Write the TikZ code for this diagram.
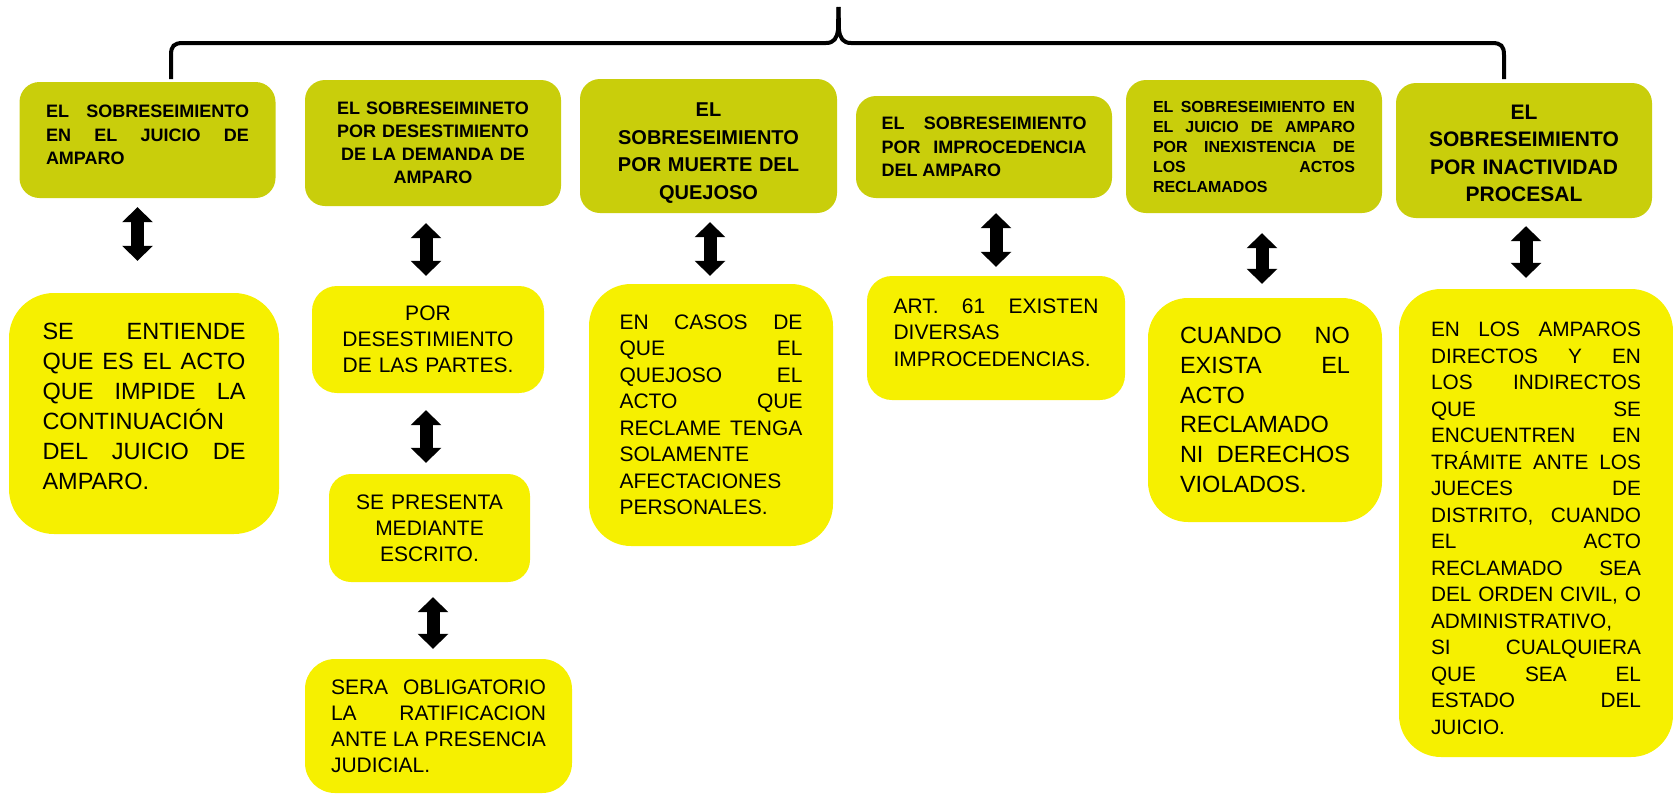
\documentclass[tikz,border=0pt]{standalone}
\usepackage{fontspec}
\setmainfont{Liberation Sans}
\usetikzlibrary{arrows.meta}

\definecolor{olivebox}{RGB}{201,206,11}
\definecolor{yellowbox}{RGB}{246,240,0}
\newcommand{\boxfont}[2]{\fontsize{#1}{#2}\selectfont}
\tolerance=10000
\hbadness=10000
\hyphenpenalty=10000

\begin{document}
\begin{tikzpicture}[x=1pt, y=-1pt,
    titlebox/.style={fill=olivebox, rounded corners=20pt, inner sep=0pt},
    notebox/.style={fill=yellowbox, inner sep=0pt},
    dblarrow/.style={line width=13pt, {Triangle[width=30pt,length=15pt]}-{Triangle[width=30pt,length=15pt]}},
    brace/.style={line width=4pt}]
    \useasboundingbox (0,0) rectangle (1673,793);

    % brace over the six kinds
    \coordinate (tip) at (838.5,7);
    \draw[brace] (171,79) -- (171,55) .. controls (171,46) and (174,43) .. (183,43) -- (826,43) .. controls (834,43) and (837,38) .. (838,30) -- (tip);
    \draw[brace] (tip) -- (839,30) .. controls (840,38) and (843,43) .. (851,43) -- (1492,43) .. controls (1501,43) and (1504,46) .. (1504,55) -- (1504,79);

    % top row
    \node[titlebox, minimum width=256pt, minimum height=116pt, text width=203pt, align=justify, font=\bfseries\boxfont{18}{23.5}] (t1) at (147.5,140) {EL SOBRESEIMIENTO\linebreak EN EL JUICIO DE\linebreak AMPARO\rule[-10pt]{0pt}{0pt}};
    \node[titlebox, minimum width=256pt, minimum height=126pt, text width=215pt, align=center, font=\bfseries\boxfont{18}{23}] (t2) at (433,143) {EL SOBRESEIMINETO\\ POR DESESTIMIENTO\\ DE LA DEMANDA DE\\ AMPARO};
    \node[titlebox, minimum width=257pt, minimum height=134pt, text width=215pt, align=center, font=\bfseries\boxfont{20}{27.5}] (t3) at (708.5,146) {\rule{0pt}{28pt}EL\\ SOBRESEIMIENTO\\ POR MUERTE DEL\\ QUEJOSO};
    \node[titlebox, minimum width=256pt, minimum height=102pt, text width=205pt, align=justify, font=\bfseries\boxfont{18}{23.5}] (t4) at (984,147) {EL SOBRESEIMIENTO\linebreak POR IMPROCEDENCIA\linebreak DEL AMPARO};
    \node[titlebox, minimum width=256pt, minimum height=133pt, text width=202pt, align=justify, font=\bfseries\boxfont{16}{20}] (t5) at (1254,146.5) {EL SOBRESEIMIENTO EN\linebreak EL JUICIO DE AMPARO\linebreak POR INEXISTENCIA DE\linebreak LOS ACTOS\linebreak RECLAMADOS};
    \node[titlebox, minimum width=256pt, minimum height=135pt, text width=215pt, align=center, font=\bfseries\boxfont{21}{27.5}] (t6) at (1524,150.5) {\rule{0pt}{20pt}EL\\ SOBRESEIMIENTO\\ POR INACTIVIDAD\\ PROCESAL};

    % bottom row
    \node[notebox, rounded corners=45pt, minimum width=270pt, minimum height=241pt, text width=203pt, align=justify, font=\boxfont{23.5}{30}] (b1) at (144,413.5) {SE ENTIENDE\linebreak QUE ES EL ACTO\linebreak QUE IMPIDE LA\linebreak CONTINUACIÓN\linebreak DEL JUICIO DE\linebreak AMPARO.\rule[-14pt]{0pt}{0pt}};
    \node[notebox, rounded corners=25pt, minimum width=232pt, minimum height=107pt, text width=210pt, align=center, font=\boxfont{21}{26}] (b2a) at (428,339.5) {POR\\ DESESTIMIENTO\\ DE LAS PARTES.};
    \node[notebox, rounded corners=22pt, minimum width=201pt, minimum height=108pt, text width=190pt, align=center, font=\boxfont{21}{26}] (b2b) at (429.5,528) {SE PRESENTA\\ MEDIANTE\\ ESCRITO.};
    \node[notebox, rounded corners=30pt, minimum width=267pt, minimum height=134pt, text width=215pt, align=justify, font=\boxfont{21}{26}] (b2c) at (438.5,726) {SERA OBLIGATORIO\linebreak LA RATIFICACION\linebreak ANTE LA PRESENCIA\linebreak JUDICIAL.};
    \node[notebox, rounded corners=42pt, minimum width=244pt, minimum height=262pt, text width=183pt, align=justify, font=\boxfont{21}{26.5}] (b3) at (711,415) {EN CASOS DE\linebreak QUE EL\linebreak QUEJOSO EL\linebreak ACTO QUE\linebreak RECLAME TENGA\linebreak SOLAMENTE\linebreak AFECTACIONES\linebreak PERSONALES.};
    \node[notebox, rounded corners=25pt, minimum width=258pt, minimum height=124pt, text width=205pt, align=justify, font=\boxfont{21}{26.5}] (b4) at (996,338) {ART. 61 EXISTEN\linebreak DIVERSAS\linebreak IMPROCEDENCIAS.\rule[-11pt]{0pt}{0pt}};
    \node[notebox, rounded corners=40pt, minimum width=234pt, minimum height=224pt, text width=170pt, align=justify, font=\boxfont{23.5}{29.7}] (b5) at (1265,410) {CUANDO NO\linebreak EXISTA EL\linebreak ACTO\linebreak RECLAMADO\linebreak NI DERECHOS\linebreak VIOLADOS.};
    \node[notebox, rounded corners=42pt, minimum width=274pt, minimum height=468pt, text width=210pt, align=justify, font=\boxfont{20.8}{26.5}] (b6) at (1536,523) {\rule{0pt}{25pt}EN LOS AMPAROS\linebreak DIRECTOS Y EN\linebreak LOS INDIRECTOS\linebreak QUE SE\linebreak ENCUENTREN EN\linebreak TRÁMITE ANTE LOS\linebreak JUECES DE\linebreak DISTRITO, CUANDO\linebreak EL ACTO\linebreak RECLAMADO SEA\linebreak DEL ORDEN CIVIL, O\linebreak ADMINISTRATIVO,\linebreak SI CUALQUIERA\linebreak QUE SEA EL\linebreak ESTADO DEL\linebreak JUICIO.};

    % double arrows
    \draw[dblarrow, shorten <=9pt, shorten >=32pt] ([xshift=-10pt]t1.south) -- ([xshift=-10pt]t1.south |- b1.north);
    \draw[dblarrow, shorten <=17pt, shorten >=10pt] ([xshift=-7pt]t2.south) -- ([xshift=-7pt]t2.south |- b2a.north);
    \draw[dblarrow, shorten <=17pt, shorten >=11pt] ([xshift=-2pt]b2a.south) -- ([xshift=-2pt]b2a.south |- b2b.north);
    \draw[dblarrow, shorten <=15pt, shorten >=10pt] ([xshift=3.5pt]b2b.south) -- ([xshift=3.5pt]b2b.south |- b2c.north);
    \draw[dblarrow, shorten <=9pt, shorten >=8pt] ([xshift=1.5pt]t3.south) -- ([xshift=1.5pt]t3.south |- b3.north);
    \draw[dblarrow, shorten <=15pt, shorten >=9pt] ([xshift=12pt]t4.south) -- ([xshift=12pt]t4.south |- b4.north);
    \draw[dblarrow, shorten <=20pt, shorten >=14pt] ([xshift=8pt]t5.south) -- ([xshift=8pt]t5.south |- b5.north);
    \draw[dblarrow, shorten <=8pt, shorten >=11pt] ([xshift=2pt]t6.south) -- ([xshift=2pt]t6.south |- b6.north);
\end{tikzpicture}
\end{document}
